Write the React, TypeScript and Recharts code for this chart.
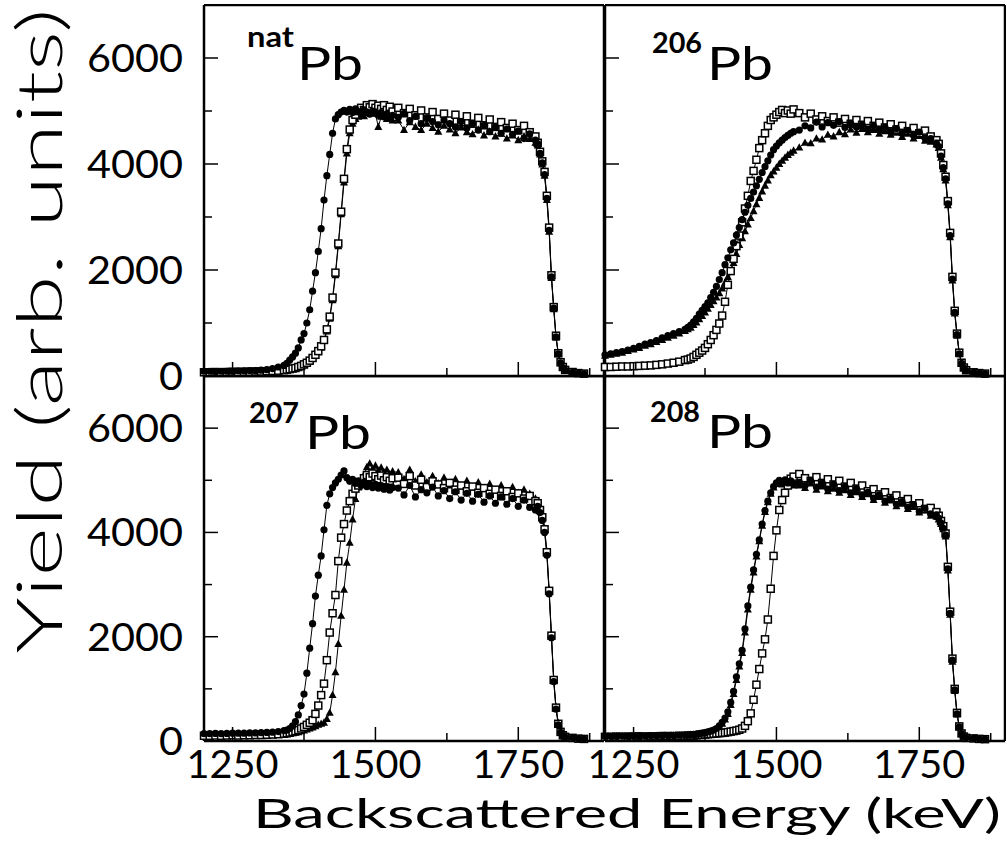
import { LineChart, Line, XAxis, YAxis } from "recharts";

// energy grid (keV), shared by every spectrum
const ENERGY = [
  1200, 1210, 1220, 1230, 1240, 1250, 1260, 1270, 1280, 1290, 1300, 1310, 1320, 1330, 1340,
  1345, 1350, 1355, 1360, 1365, 1370, 1375, 1380, 1385, 1390, 1395, 1400, 1405, 1410, 1415,
  1420, 1425, 1430, 1435, 1440, 1445, 1450, 1455, 1460, 1465, 1470, 1475, 1480, 1485, 1490,
  1495, 1500, 1505, 1510, 1515, 1520, 1525, 1530,
  1540, 1550, 1560, 1570, 1580, 1590, 1600, 1610, 1620, 1630, 1640, 1650, 1660, 1670, 1680,
  1690, 1700, 1710, 1720, 1730, 1740, 1750, 1760, 1770, 1780,
  1784, 1788, 1792, 1796, 1800, 1804, 1808, 1812, 1816, 1820, 1824, 1828, 1832,
  1845, 1855, 1865,
];

// natPb
const NAT_CIRCLE = [
  90, 90, 85, 90, 90, 90, 95, 95, 100, 100, 110, 120, 140, 170, 200,
  240, 300, 360, 430, 530, 680, 800, 1000, 1250, 1600, 1950, 2350, 2780, 3320, 3780,
  4180, 4580, 4850, 4930, 4980, 5010, 4980, 5030, 4970, 5040, 4990, 4950, 5020, 4980, 4940,
  5000, 4960, 4920, 4970, 4890, 4940, 4880, 4920,
  4880, 4950, 4820, 4900, 4760, 4870, 4800, 4740, 4830, 4760, 4700, 4800, 4680, 4760, 4640,
  4730, 4610, 4700, 4580, 4660, 4560, 4620, 4480, 4570, 4450,
  4380, 4200, 4020, 3800, 3350, 2750, 1870, 1280, 740, 420, 250, 160, 110,
  70, 50, 40,
];
const NAT_SQUARE = [
  70, 70, 75, 70, 75, 80, 75, 80, 80, 85, 85, 90, 95, 100, 110,
  120, 130, 140, 150, 170, 190, 220, 250, 290, 340, 400, 470, 560, 680, 880,
  1120, 1480, 1950, 2500, 3100, 3720, 4280, 4650, 4830, 4930, 5000, 5060, 5020, 5110, 5070,
  5130, 5060, 5100, 5040, 5110, 5020, 5080, 4990,
  5060, 4960, 5040, 4920, 5010, 4880, 4980, 4850, 4950, 4820, 4930, 4790, 4900, 4760, 4870,
  4730, 4840, 4700, 4790, 4680, 4760, 4640, 4720, 4600, 4520,
  4400, 4230, 4050, 3850, 3400, 2800, 1900, 1300, 760, 430, 260, 170, 115,
  75, 55, 45,
];
const NAT_TRIANGLE = [
  60, 65, 60, 65, 70, 65, 70, 75, 70, 75, 80, 85, 90, 95, 100,
  110, 120, 130, 140, 155, 175, 200, 230, 270, 320, 380, 450, 540, 660, 840,
  1080, 1430, 1900, 2450, 3050, 3650, 4200, 4580, 4760, 4850, 4890, 4940, 4900, 4960, 5000,
  5100, 4950, 4700, 4890, 4930, 4850, 4900, 4820,
  4820, 4640, 4790, 4700, 4640, 4760, 4680, 4610, 4720, 4650, 4580, 4690, 4600, 4560, 4650,
  4540, 4610, 4520, 4570, 4480, 4540, 4450, 4520, 4470, 4400,
  4350, 4180, 3990, 3780, 3320, 2720, 1850, 1260, 720, 410, 240, 150, 105,
  65, 50, 40,
];

// 206Pb
const PB206_CIRCLE = [
  400, 420, 440, 460, 490, 520, 560, 600, 630, 670, 720, 760, 800, 840, 880,
  920, 960, 1020, 1090, 1170, 1240, 1310, 1380, 1480, 1580, 1690, 1820, 1950, 2100, 2230,
  2380, 2510, 2660, 2800, 2950, 3090, 3220, 3350, 3470, 3590, 3710, 3840, 3950, 4060, 4170,
  4270, 4340, 4400, 4450, 4500, 4540, 4580, 4610,
  4640, 4720, 4680, 4790, 4700, 4780, 4730, 4800, 4690, 4760, 4700, 4740, 4660, 4720, 4640,
  4690, 4610, 4670, 4580, 4630, 4540, 4600, 4490, 4480, 4390,
  4330, 4150, 3930, 3720, 3250, 2650, 1830, 1200, 780, 420, 240, 150, 100,
  70, 50, 40,
];
const PB206_SQUARE = [
  170, 170, 175, 180, 180, 185, 190, 195, 200, 210, 220, 235, 250, 270, 300,
  310, 330, 360, 400, 440, 480, 530, 600, 680, 770, 870, 990, 1140, 1400, 1720,
  1980, 2210, 2450, 2650, 2900, 3160, 3400, 3680, 3870, 4080, 4300, 4450, 4580, 4720, 4830,
  4880, 4930, 4980, 5020, 4960, 5010, 4950, 5030,
  4960, 4880, 4950, 4840, 4900, 4810, 4880, 4780, 4850, 4760, 4830, 4740, 4810, 4720, 4780,
  4690, 4750, 4650, 4720, 4620, 4680, 4580, 4630, 4520, 4450,
  4380, 4200, 3980, 3760, 3300, 2700, 1870, 1230, 800, 440, 250, 160, 110,
  70, 55, 45,
];
const PB206_TRIANGLE = [
  380, 400, 420, 440, 470, 500, 530, 570, 600, 640, 680, 720, 760, 800, 850,
  880, 910, 960, 1010, 1070, 1130, 1200, 1270, 1340, 1410, 1480, 1560, 1650, 1760, 1870,
  1980, 2130, 2300, 2470, 2600, 2730, 2860, 2980, 3110, 3240, 3360, 3480, 3590, 3690, 3790,
  3860, 3930, 4000, 4060, 4120, 4170, 4210, 4250,
  4310, 4400, 4390, 4480, 4460, 4550, 4520, 4600, 4560, 4650, 4590, 4660, 4600, 4640, 4570,
  4620, 4550, 4590, 4510, 4570, 4480, 4530, 4440, 4420, 4370,
  4300, 4120, 3900, 3690, 3220, 2620, 1800, 1180, 760, 410, 230, 150, 100,
  70, 50, 40,
];

// 207Pb
const PB207_CIRCLE = [
  140, 140, 145, 140, 145, 150, 150, 150, 155, 155, 160, 165, 170, 180, 200,
  210, 240, 290, 370, 500, 680, 900, 1300, 1780, 2250, 2780, 3180, 3550, 4050, 4520,
  4740, 4860, 4950, 5020, 5100, 5180, 5050, 4980, 5020, 4940, 4990, 4900, 4960, 4880, 4930,
  4860, 4920, 4850, 4900, 4830, 4880, 4810, 4860,
  4850, 4720, 4900, 4680, 4820, 4760, 4870, 4700, 4800, 4650, 4780, 4620, 4750, 4600, 4730,
  4580, 4700, 4560, 4680, 4540, 4650, 4500, 4620, 4480, 4430,
  4500, 4380, 4230, 4000, 3560, 2820, 1980, 1140, 610, 310, 165, 105, 75,
  60, 45, 40,
];
const PB207_SQUARE = [
  100, 100, 105, 100, 105, 110, 105, 110, 110, 115, 115, 120, 125, 130, 140,
  150, 160, 175, 190, 210, 240, 270, 310, 350, 400, 520, 680, 880, 1100, 1550,
  2080, 2450, 2800, 3450, 3900, 4160, 4420, 4600, 4740, 4840, 4900, 4960, 5040, 5100, 5060,
  5130, 5080, 5020, 5090, 5000, 5060, 4990, 5040,
  5050, 4930, 5080, 4900, 5010, 4870, 4980, 4920, 4850, 4950, 4820, 4900, 4790, 4880, 4760,
  4850, 4740, 4820, 4700, 4790, 4680, 4750, 4650, 4700, 4600,
  4560, 4430, 4290, 4060, 3620, 2880, 2020, 1170, 640, 330, 175, 110, 80,
  60, 45, 40,
];
const PB207_TRIANGLE = [
  90, 90, 95, 90, 95, 95, 100, 100, 100, 105, 105, 110, 110, 115, 120,
  130, 140, 150, 160, 170, 185, 200, 220, 240, 260, 285, 310, 330, 350, 420,
  540, 880, 1320, 1860, 2400, 2900, 3420, 3800, 4250, 4640, 4860, 5000, 5100, 5250, 5320,
  5220, 5280, 5180, 5240, 5150, 5200, 5120, 5170,
  5150, 5020, 5200, 4980, 5110, 4960, 5080, 4940, 5050, 4900, 5020, 4880, 4990, 4860, 4960,
  4840, 4930, 4810, 4900, 4790, 4870, 4760, 4820, 4740, 4650,
  4580, 4450, 4300, 4080, 3640, 2900, 2040, 1190, 650, 340, 180, 115, 80,
  60, 45, 40,
];

// 208Pb
const PB208_CIRCLE = [
  90, 90, 90, 95, 90, 95, 95, 95, 100, 100, 100, 105, 105, 110, 110,
  115, 120, 125, 130, 140, 150, 160, 175, 190, 210, 240, 290, 360, 440, 560,
  740, 950, 1230, 1480, 1740, 2150, 2590, 2950, 3280, 3580, 3860, 4160, 4420, 4600, 4760,
  4880, 4950, 5000, 4960, 5010, 4950, 4990, 4930,
  4960, 4900, 4990, 4870, 4950, 4830, 4920, 4800, 4880, 4760, 4840, 4720, 4770, 4660, 4720,
  4600, 4650, 4540, 4590, 4480, 4530, 4400, 4460, 4350, 4330,
  4270, 4180, 4080, 3950, 3300, 2450, 1550, 980, 520, 270, 140, 80, 60,
  50, 40, 35,
];
const PB208_SQUARE = [
  80, 80, 85, 80, 85, 85, 90, 85, 90, 90, 95, 95, 95, 100, 100,
  100, 105, 105, 110, 115, 120, 125, 130, 135, 140, 145, 150, 155, 160, 170,
  180, 190, 200, 215, 240, 290, 380, 530, 790, 1080, 1380, 1680, 1950, 2330, 2920,
  3550, 4040, 4430, 4620, 4760, 4900, 5030, 5070,
  5120, 5040, 4990, 5060, 4950, 5020, 4920, 4990, 4880, 4950, 4840, 4900, 4790, 4830, 4730,
  4770, 4660, 4710, 4600, 4640, 4520, 4560, 4450, 4470, 4390,
  4320, 4220, 4120, 3980, 3340, 2480, 1580, 1000, 540, 280, 145, 85, 60,
  50, 40, 35,
];
const PB208_TRIANGLE = [
  85, 85, 90, 90, 90, 90, 95, 95, 95, 100, 100, 100, 105, 105, 110,
  110, 115, 120, 125, 135, 145, 155, 165, 180, 200, 225, 265, 330, 410, 520,
  690, 900, 1170, 1430, 1690, 2080, 2520, 2900, 3230, 3540, 3830, 4130, 4390, 4580, 4740,
  4860, 4930, 4970, 4920, 4980, 4910, 4960, 4900,
  4900, 4850, 4940, 4820, 4880, 4790, 4840, 4760, 4810, 4720, 4770, 4680, 4730, 4620, 4680,
  4570, 4610, 4500, 4550, 4450, 4490, 4380, 4420, 4320, 4300,
  4250, 4160, 4060, 3920, 3270, 2420, 1520, 960, 510, 260, 135, 80, 60,
  50, 40, 35,
];

const X_TICKS = [1250, 1375, 1500, 1625, 1750, 1875];
const X_LABELS = [1250, 1500, 1750];
const Y_TICKS = [0, 1000, 2000, 3000, 4000, 5000, 6000, 7000];
const Y_LABELS = [0, 2000, 4000, 6000];

const FONT = "Lato";
const AXIS_W = 130; // room left of each plot for y labels
const AXIS_H = 50; // room under each plot for x labels

type Side = "left" | "right" | "top" | "bottom";

function makeTick(side: Side, showLabels: boolean) {
  return (props: any) => {
    const { x, y, payload } = props;
    const v = payload.value;
    const vertical = side === "left" || side === "right";
    const major = vertical ? Y_LABELS.includes(v) : X_LABELS.includes(v);
    const len = major ? 14 : 8;
    let line;
    if (side === "left") line = <line x1={x} x2={x + len} y1={y} y2={y} />;
    else if (side === "right") line = <line x1={x} x2={x - len} y1={y} y2={y} />;
    else if (side === "top") line = <line x1={x} x2={x} y1={y} y2={y + len} />;
    else line = <line x1={x} x2={x} y1={y} y2={y - len} />;
    let label = null;
    if (showLabels && major) {
      const s = String(v);
      label =
        side === "left" ? (
          <text
            x={x - 21}
            y={y + 14}
            textAnchor="end"
            fontFamily={FONT}
            fontSize={38}
            textLength={s.length * 24}
            lengthAdjust="spacingAndGlyphs"
            fill="#000"
            stroke="none"
          >
            {s}
          </text>
        ) : (
          <text
            x={x}
            y={y + 37}
            textAnchor="middle"
            fontFamily={FONT}
            fontSize={38}
            textLength={s.length * 23}
            lengthAdjust="spacingAndGlyphs"
            fill="#000"
            stroke="none"
          >
            {s}
          </text>
        );
    }
    return (
      <g stroke="#000" strokeWidth={1.5}>
        {line}
        {label}
      </g>
    );
  };
}

const circleDot = (p: any) =>
  p.cx == null || p.cy == null ? (
    <g key={`c${p.index}`} />
  ) : (
    <circle key={`c${p.index}`} cx={p.cx} cy={p.cy} r={3.6} fill="#000" />
  );

const squareDot = (p: any) =>
  p.cx == null || p.cy == null ? (
    <g key={`s${p.index}`} />
  ) : (
    <rect key={`s${p.index}`} x={p.cx - 3.5} y={p.cy - 3.5} width={7} height={7} fill="#fff" stroke="#000" strokeWidth={1.5} />
  );

const triangleDot = (p: any) =>
  p.cx == null || p.cy == null ? (
    <g key={`t${p.index}`} />
  ) : (
    <polygon
      key={`t${p.index}`}
      points={`${p.cx},${p.cy - 4.4} ${p.cx - 4},${p.cy + 3} ${p.cx + 4},${p.cy + 3}`}
      fill="#000"
    />
  );

type PanelProps = {
  circle: number[];
  square: number[];
  triangle: number[];
  left: number;
  top: number;
  plotH: number;
  yLabels: boolean;
  xLabels: boolean;
};

function Panel({ circle, square, triangle, left, top, plotH, yLabels, xLabels }: PanelProps) {
  const rows = ENERGY.map((e, i) => ({ e, circle: circle[i], square: square[i], triangle: triangle[i] }));
  const axisLine = { stroke: "#000", strokeWidth: 2.5 };
  return (
    <div style={{ position: "absolute", left: left - AXIS_W, top: top - 1 }}>
      <LineChart
        width={AXIS_W + 400 + 1}
        height={1 + plotH + AXIS_H}
        data={rows}
        margin={{ top: 0, right: 0, bottom: 0, left: 0 }}
      >
        <XAxis
          dataKey="e"
          type="number"
          domain={[1200, 1900]}
          ticks={X_TICKS}
          interval={0}
          height={AXIS_H}
          axisLine={axisLine}
          tickLine={false}
          tickSize={0}
          tickMargin={0}
          tick={makeTick("bottom", xLabels)}
        />
        <XAxis
          xAxisId="top"
          orientation="top"
          type="number"
          domain={[1200, 1900]}
          ticks={X_TICKS}
          interval={0}
          height={1}
          axisLine={axisLine}
          tickLine={false}
          tickSize={0}
          tickMargin={0}
          tick={makeTick("top", false)}
        />
        <YAxis
          type="number"
          domain={[0, 7000]}
          ticks={Y_TICKS}
          interval={0}
          width={AXIS_W}
          axisLine={axisLine}
          tickLine={false}
          tickSize={0}
          tickMargin={0}
          tick={makeTick("left", yLabels)}
        />
        <YAxis
          yAxisId="right"
          orientation="right"
          type="number"
          domain={[0, 7000]}
          ticks={Y_TICKS}
          interval={0}
          width={1}
          axisLine={axisLine}
          tickLine={false}
          tickSize={0}
          tickMargin={0}
          tick={makeTick("right", false)}
        />
        <Line dataKey="triangle" stroke="#000" strokeWidth={1} dot={triangleDot} isAnimationActive={false} />
        <Line dataKey="square" stroke="#000" strokeWidth={1} dot={squareDot} isAnimationActive={false} />
        <Line dataKey="circle" stroke="#000" strokeWidth={1} dot={circleDot} isAnimationActive={false} />
      </LineChart>
    </div>
  );
}

const PANEL_TITLES = [
  { sup: "nat", supX: 247, supY: 47, pbX: 297, pbY: 80, supLen: 47 },
  { sup: "206", supX: 652, supY: 53, pbX: 707, pbY: 80, supLen: 50 },
  { sup: "207", supX: 249, supY: 423, pbX: 305, pbY: 449, supLen: 50 },
  { sup: "208", supX: 650, supY: 422, pbX: 707, pbY: 448, supLen: 50 },
];

export default function App() {
  return (
    <div style={{ position: "absolute", left: 0, top: 0, width: 1007, height: 851, background: "#fff", overflow: "hidden" }}>
      <Panel circle={NAT_CIRCLE} square={NAT_SQUARE} triangle={NAT_TRIANGLE} left={204} top={5} plotH={371} yLabels xLabels={false} />
      <Panel circle={PB206_CIRCLE} square={PB206_SQUARE} triangle={PB206_TRIANGLE} left={605} top={5} plotH={371} yLabels={false} xLabels={false} />
      <Panel circle={PB207_CIRCLE} square={PB207_SQUARE} triangle={PB207_TRIANGLE} left={204} top={376} plotH={365} yLabels xLabels />
      <Panel circle={PB208_CIRCLE} square={PB208_SQUARE} triangle={PB208_TRIANGLE} left={605} top={376} plotH={365} yLabels={false} xLabels />
      <svg width={1007} height={851} style={{ position: "absolute", left: 0, top: 0, pointerEvents: "none" }}>
        {PANEL_TITLES.map((t) => (
          <g key={t.sup} fill="#000" fontFamily={FONT}>
            <text x={t.supX} y={t.supY} fontSize={28} fontWeight="bold" textLength={t.supLen} lengthAdjust="spacingAndGlyphs">
              {t.sup}
            </text>
            <text x={t.pbX} y={t.pbY} fontSize={46} textLength={66} lengthAdjust="spacingAndGlyphs">
              Pb
            </text>
          </g>
        ))}
        <text
          transform="translate(62, 331) rotate(-90)"
          textAnchor="middle"
          fontFamily={FONT}
          fontWeight={300}
          fontSize={64}
          textLength={645}
          lengthAdjust="spacingAndGlyphs"
          fill="#000"
        >
          Yield (arb. units)
        </text>
        <text
          x={627}
          y={828}
          textAnchor="middle"
          fontFamily={FONT}
          fontSize={40}
          textLength={748}
          lengthAdjust="spacingAndGlyphs"
          fill="#000"
        >
          Backscattered Energy (keV)
        </text>
      </svg>
    </div>
  );
}
